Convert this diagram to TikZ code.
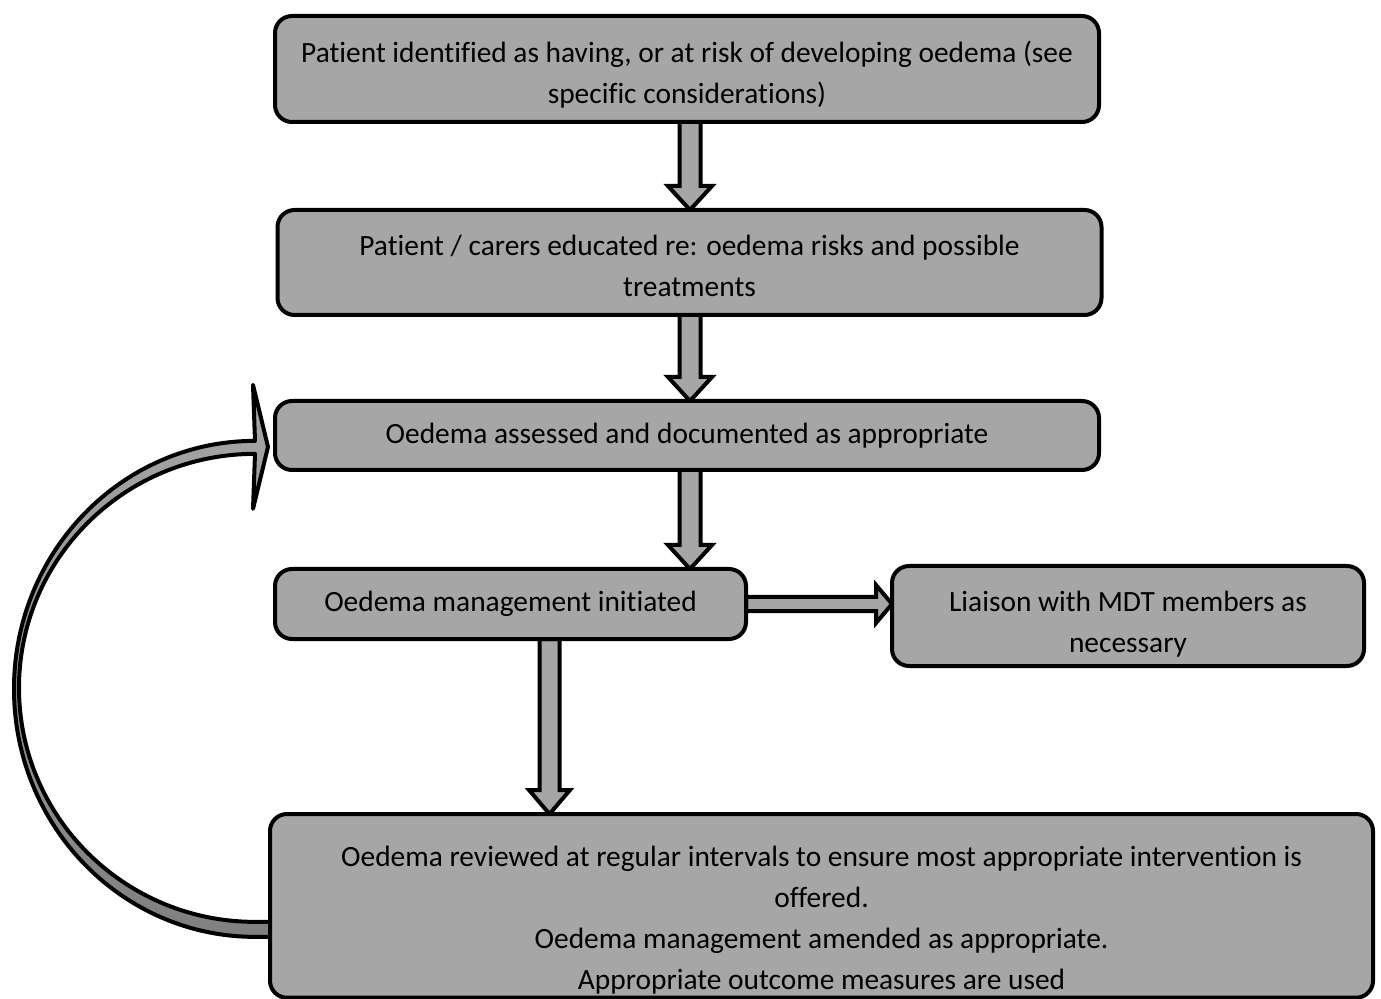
\documentclass[tikz,border=0pt]{standalone}
\usepackage{fontspec}
\setmainfont[Ligatures=NoCommon]{Carlito}
\usetikzlibrary{calc}
\usetikzlibrary{positioning}
\usetikzlibrary{backgrounds}
\definecolor{grey1}	{RGB}{166,166,166}
\definecolor{grey2}	{RGB}{128,128,128}
% strut that pushes the first line down
\newcommand{\topgap}[1]{\rule{0pt}{#1}}
\tikzset{node distance=43pt and 73pt}
\tikzstyle{stage}=	[rectangle, rounded corners=8.5pt, draw=black, line width=2pt, fill=grey1, align=center, inner sep=2pt, outer sep=0pt, font=\fontsize{14.7}{20.5}\selectfont]
\tikzstyle{swide}=	[stage, minimum width=412pt]
\tikzstyle{shalf}=	[stage, minimum width=236pt]
\tikzstyle{flow}=	[draw=black, line width=2pt, fill=grey1, line join=miter]
\tikzstyle{loopback}=	[draw=black, line width=2pt, top color=grey1, bottom color=grey2, line join=round]
% block arrow: shaft half width, head half width, head length
\tikzset{block/.style n args={3}{flow, to path={
	($(\tikztostart)!#1!90:(\tikztotarget)$)
	-- ($(\tikztotarget)!#3!(\tikztostart)!#1!90:(\tikztotarget)$)
	-- ($(\tikztotarget)!#3!(\tikztostart)!#2!90:(\tikztotarget)$)
	-- (\tikztotarget)
	-- ($(\tikztotarget)!#3!(\tikztostart)!#2!-90:(\tikztotarget)$)
	-- ($(\tikztotarget)!#3!(\tikztostart)!#1!-90:(\tikztotarget)$)
	-- ($(\tikztostart)!#1!-90:(\tikztotarget)$)
	-- cycle}}}

\begin{document}
\begin{tikzpicture}[x=0.5pt, y=-0.5pt]
	\useasboundingbox (0,0) rectangle (1381,999);

	%%% main column
	% boxes
	\node[swide, minimum height=53pt] 	(ident) at (687,69) 	{\topgap{16pt}Patient identified as having, or at risk of developing oedema (see\\ specific considerations)};
	\node[swide, minimum height=52.5pt, below=44pt of ident, xshift=1.25pt] 	(educate) 	{\topgap{13.5pt}Patient / carers educated re: oedema risks and possible\\ treatments};
	\node[swide, minimum height=34.5pt, below=43pt of educate, xshift=-1.25pt] 	(assess) 	{Oedema assessed and documented as appropriate};
	\node[shalf, minimum width=235.5pt, minimum height=35pt, below=49.5pt of assess.south west, anchor=north west] 	(manage) 	{Oedema management initiated};

	% side box
	\node[shalf, minimum height=50pt, right=73pt of manage.north east, anchor=north west, yshift=1.5pt] 	(liaise) 	{\topgap{18.5pt}Liaison with MDT members as\\ necessary};

	% review box
	\node[stage, minimum width=551.5pt, minimum height=91pt, below=87.5pt of manage.south west, anchor=north west, xshift=-2.5pt] 	(review) 	{\topgap{24pt}Oedema reviewed at regular intervals to ensure most appropriate intervention is\\ offered.\\ Oedema management amended as appropriate.\\ Appropriate outcome measures are used};

	\coordinate (m4out) at ([xshift=19.5pt]manage.south);
	\coordinate (m4in) at (m4out |- review.north);

	%%% arrows
	\begin{scope}[on background layer]
	\draw[block={5.25pt}{11pt}{12pt}] ([xshift=1.5pt]ident.south) to ([xshift=1.5pt]ident.south |- educate.north);
	\draw[block={5.25pt}{11pt}{12pt}] ([xshift=1.5pt]assess.north |- educate.south) to ([xshift=1.5pt]assess.north);
	\draw[block={5.25pt}{11pt}{12pt}] ([xshift=1.5pt]assess.south) to ([xshift=1.5pt]assess.south |- manage.north);
	\draw[block={5pt}{10.25pt}{12pt}] (m4out) to (m4in);
	\draw[block={3.5pt}{9.5pt}{8pt}] (manage.east) to (manage.east -| liaise.west);

	% loop back to assessment
	\draw[loopback] ([yshift=-15.5pt]review.west) -- ++(-15,0)
		arc[start angle=270, end angle=90, x radius=120.5pt, y radius=124pt]
		-- ++(-2,-56) -- ++(15,62) -- ++(-15,62) -- ++(2,-55)
		arc[start angle=90, end angle=270, x radius=118pt, y radius=117pt]
		-- ++(17,0) -- cycle;
	\end{scope}

\end{tikzpicture}
\end{document}
